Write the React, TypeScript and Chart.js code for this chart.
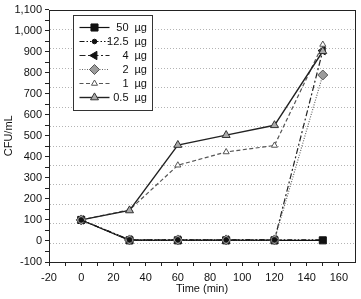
import React, { useEffect, useRef } from 'react';
import { Chart, registerables } from 'chart.js';
import { drawPoint } from 'chart.js/helpers';

Chart.register(...registerables);

// ---- data ----
const times = [0, 30, 60, 90, 120, 150];
const s50 = [100, 3, 3, 3, 3, 3];
const s12_5 = [100, 5, 5, 5, 5, 5];
const s4 = [100, 5, 5, 5, 5, 905];
const s2 = [100, 5, 5, 5, 5, 789];
const s1 = [100, 148, 360, 423, 454, 934];
const s05 = [100, 145, 456, 503, 550, 902];
const doseLabels = ['50', '12.5', '4', '2', '1', '0.5'];
const unitLabel = 'µg';
const xMin = -20;
const xMax = 170;
const yMin = -100;
const yMax = 1100;
const yTitle = 'CFU/mL';
const xTitle = 'Time (min)';

const FONT = '"Liberation Sans", Arial, Helvetica, sans-serif';

const toXY = (vals: number[]) => vals.map((v, i) => ({ x: times[i], y: v }));

const gridPlugin = {
  id: 'dottedGrid',
  beforeDatasetsDraw(chart: any) {
    const { ctx, chartArea: ca } = chart;
    ctx.save();
    ctx.strokeStyle = '#b4b4b4';
    ctx.lineWidth = 1;
    ctx.setLineDash([1, 2]);
    const n = 13;
    for (let i = 1; i < n; i++) {
      const y = Math.round(ca.top + (i * (ca.bottom - ca.top)) / n) + 0.5;
      ctx.beginPath();
      ctx.moveTo(ca.left + 1, y);
      ctx.lineTo(ca.right - 1, y);
      ctx.stroke();
    }
    ctx.restore();
  },
};

const framePlugin = {
  id: 'frame',
  afterDatasetsDraw(chart: any) {
    const { ctx, chartArea: ca } = chart;
    ctx.save();
    ctx.strokeStyle = '#222';
    ctx.lineWidth = 1;
    ctx.setLineDash([]);
    ctx.strokeRect(Math.round(ca.left) + 0.5, Math.round(ca.top) + 0.5, Math.round(ca.right - ca.left), Math.round(ca.bottom - ca.top));
    ctx.restore();
  },
};

const legendPlugin = {
  id: 'boxLegend',
  afterDraw(chart: any) {
    const { ctx, chartArea: ca } = chart;
    const bx = Math.round(ca.left + 24) + 0.5;
    const by = Math.round(ca.top + 5) + 0.5;
    const bw = 79;
    const bh = 95;
    ctx.save();
    ctx.fillStyle = '#fff';
    ctx.fillRect(bx, by, bw, bh);
    ctx.strokeStyle = '#333';
    ctx.lineWidth = 1;
    ctx.strokeRect(bx, by, bw, bh);
    chart.data.datasets.forEach((ds: any, i: number) => {
      const y = by + 12 + i * 14;
      ctx.save();
      ctx.strokeStyle = ds.borderColor;
      ctx.lineWidth = ds.borderWidth;
      ctx.setLineDash(ds.borderDash || []);
      ctx.beginPath();
      ctx.moveTo(bx + 6, y);
      ctx.lineTo(bx + 36, y);
      ctx.stroke();
      ctx.restore();
      ctx.save();
      ctx.fillStyle = ds.pointBackgroundColor;
      ctx.strokeStyle = ds.pointBorderColor;
      ctx.lineWidth = ds.pointBorderWidth;
      ctx.setLineDash([]);
      drawPoint(ctx, { pointStyle: ds.pointStyle, radius: ds.pointRadius, rotation: ds.pointRotation || 0, borderWidth: ds.pointBorderWidth }, bx + 21, y);
      ctx.restore();
      ctx.fillStyle = '#111';
      ctx.font = `11px ${FONT}`;
      ctx.textBaseline = 'middle';
      ctx.textAlign = 'right';
      ctx.fillText(doseLabels[i], bx + 55, y + 0.5);
      ctx.textAlign = 'left';
      ctx.fillText(unitLabel, bx + 61, y + 0.5);
    });
    ctx.restore();
  },
};

export default function App() {
  const ref = useRef<HTMLCanvasElement | null>(null);

  useEffect(() => {
    if (!ref.current) return;
    const mk = (label: string, vals: number[], o: any) => ({
      label,
      data: toXY(vals),
      borderWidth: 1.2,
      pointBorderWidth: 1,
      pointHoverRadius: 0,
      ...o,
    });
    const chart = new Chart(ref.current, {
      type: 'line',
      data: {
        datasets: [
          mk('50 µg', s50, { order: 5, borderColor: '#111', borderDash: [], pointStyle: 'rect', pointRadius: 5, pointBackgroundColor: '#111', pointBorderColor: '#111' }),
          mk('12.5 µg', s12_5, { order: 0, borderColor: '#111', borderDash: [5, 2, 1.5, 2, 1.5, 2], pointStyle: 'circle', pointRadius: 2.3, pointBackgroundColor: '#111', pointBorderColor: '#111' }),
          mk('4 µg', s4, { order: 4, borderColor: '#222', borderDash: [6, 2.5, 2, 2.5], pointStyle: 'triangle', pointRotation: -90, pointRadius: 4.8, pointBackgroundColor: '#111', pointBorderColor: '#111' }),
          mk('2 µg', s2, { order: 1, borderColor: '#666', borderDash: [1, 1.5], pointStyle: 'rectRot', pointRadius: 5, pointBackgroundColor: '#9c9c9c', pointBorderColor: '#555' }),
          mk('1 µg', s1, { order: 3, borderColor: '#555', borderDash: [4, 2.5], pointStyle: 'triangle', pointRadius: 3.5, pointBackgroundColor: '#fff', pointBorderColor: '#555' }),
          mk('0.5 µg', s05, { order: 2, borderColor: '#222', borderWidth: 1.4, borderDash: [], pointStyle: 'triangle', pointRadius: 4.6, pointBackgroundColor: '#aaa', pointBorderColor: '#333' }),
        ],
      },
      options: {
        responsive: false,
        animation: false,
        events: [],
        layout: { padding: { top: 7, right: 4, left: 0, bottom: 0 } },
        plugins: { legend: { display: false }, tooltip: { enabled: false } },
        scales: {
          x: {
            type: 'linear',
            min: xMin,
            max: xMax,
            afterBuildTicks: (scale: any) => {
              scale.ticks = scale.ticks.filter((t: any) => t.value % 10 === 0 && t.value <= 160);
            },
            afterFit: (scale: any) => {
              scale.height = 37;
            },
            border: { display: false },
            grid: { drawOnChartArea: false, drawTicks: true, tickLength: 4, color: '#222' },
            ticks: {
              stepSize: 10,
              autoSkip: false,
              maxRotation: 0,
              padding: 5,
              color: '#111',
              font: { family: FONT, size: 11 },
              callback: (v: any) => (Number(v) % 20 === 0 ? String(v) : ''),
            },
            title: { display: true, text: xTitle, color: '#111', font: { family: FONT, size: 11 }, padding: { top: 0, bottom: 3 } },
          },
          y: {
            type: 'linear',
            min: yMin,
            max: yMax,
            afterFit: (scale: any) => {
              scale.width = 49;
            },
            border: { display: false },
            grid: { drawOnChartArea: false, drawTicks: true, tickLength: 4, color: '#222' },
            ticks: {
              stepSize: 50,
              autoSkip: false,
              padding: 3,
              color: '#111',
              font: { family: FONT, size: 11 },
              callback: (v: any) => (Number(v) % 100 === 0 ? Number(v).toLocaleString('en-US') : ''),
            },
            title: { display: true, text: yTitle, color: '#111', font: { family: FONT, size: 11 }, padding: { top: 2, bottom: 0 } },
          },
        },
      },
      plugins: [gridPlugin, framePlugin, legendPlugin],
    } as any);
    return () => chart.destroy();
  }, []);

  return (
    <div style={{ position: 'absolute', left: 0, top: 0, width: 361, height: 299, background: '#fff' }}>
      <canvas ref={ref} width={361} height={299} style={{ display: 'block' }} />
    </div>
  );
}
